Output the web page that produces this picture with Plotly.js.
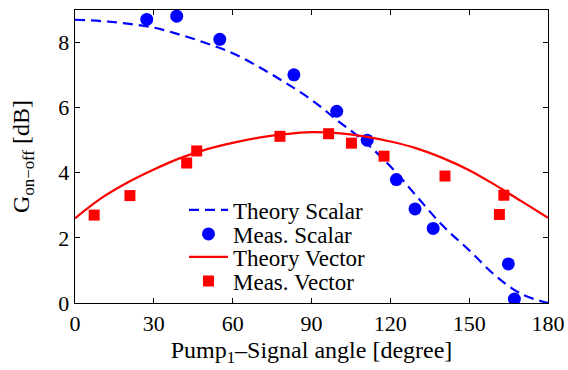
<!DOCTYPE html>
<html>
<head>
<meta charset="utf-8">
<script src="https://cdn.plot.ly/plotly-3.0.1.min.js"></script>
<style>html,body{margin:0;padding:0;background:#fff;}#chart{width:568px;height:370px;}</style>
</head>
<body>
<div id="chart"></div>
<script>
// Theory curves
const theoryAngle = [0, 10, 20, 30, 40, 50, 60, 70, 80, 90, 100, 110, 120, 130, 140, 150, 160, 170, 180];
const theoryScalar = [8.70, 8.66, 8.58, 8.46, 8.24, 7.98, 7.67, 7.25, 6.77, 6.24, 5.60, 4.97, 4.20, 3.28, 2.37, 1.62, 0.84, 0.27, 0.0];
const theoryVector = [2.60, 3.22, 3.70, 4.10, 4.45, 4.72, 4.92, 5.08, 5.19, 5.25, 5.22, 5.12, 4.96, 4.75, 4.45, 4.08, 3.62, 3.12, 2.62];

// Measured points
const measScalarAngle = [27.3, 38.7, 55.1, 83.3, 99.6, 111.2, 122.3, 129.4, 136.3, 164.9, 167.2];
const measScalarGain  = [8.71, 8.81, 8.10, 7.01, 5.89, 5.00, 3.79, 2.89, 2.29, 1.20, 0.12];
const measVectorAngle = [7.3, 20.9, 42.5, 46.3, 78.0, 96.5, 105.2, 117.6, 140.8, 161.5, 163.2];
const measVectorGain  = [2.70, 3.30, 4.30, 4.67, 5.12, 5.20, 4.91, 4.51, 3.90, 2.72, 3.31];

const xTicks = [0, 30, 60, 90, 120, 150, 180];
const yTicks = [0, 2, 4, 6, 8];
const seriesNames = ['Theory Scalar', 'Meas. Scalar', 'Theory Vector', 'Meas. Vector'];

const FONT = "'Liberation Serif', 'Times New Roman', Times, serif";

const traces = [
  {x: theoryAngle, y: theoryScalar, name: seriesNames[0], mode: 'lines', legend: 'legend',
   line: {color: '#0000ff', width: 2.2, dash: '10px,6px', shape: 'spline'}},
  {x: measScalarAngle, y: measScalarGain, name: seriesNames[1], mode: 'markers', legend: 'legend2',
   marker: {color: '#0000ff', size: 13, symbol: 'circle'}},
  {x: theoryAngle, y: theoryVector, name: seriesNames[2], mode: 'lines', legend: 'legend3',
   line: {color: '#ff0000', width: 2.2, shape: 'spline'}},
  {x: measVectorAngle, y: measVectorGain, name: seriesNames[3], mode: 'markers', legend: 'legend4',
   marker: {color: '#ff0000', size: 11, symbol: 'square'}}
];

function legendAt(yPaper) {
  return {x: 0.2304, y: yPaper, xanchor: 'left', yanchor: 'middle', itemwidth: 39,
          bgcolor: 'rgba(0,0,0,0)', borderwidth: 0,
          font: {family: FONT, size: 23, color: '#000'}};
}

const layout = {
  width: 568, height: 370,
  margin: {l: 75, r: 20, t: 10, b: 67},
  paper_bgcolor: '#ffffff', plot_bgcolor: '#ffffff',
  font: {family: FONT, size: 22, color: '#000'},
  showlegend: true,
  legend: legendAt(0.3174),
  legend2: legendAt(0.2355),
  legend3: legendAt(0.157),
  legend4: legendAt(0.0751),
  xaxis: {range: [0, 180], tickvals: xTicks, ticktext: xTicks.map(String),
          ticks: 'inside', ticklen: 5, tickwidth: 1, tickcolor: '#000',
          showline: true, linecolor: '#000', linewidth: 1.3, mirror: 'ticks',
          showgrid: false, zeroline: false,
          title: {text: 'Pump<sub>1</sub>–Signal angle [degree]', font: {family: FONT, size: 24}, standoff: 6}},
  yaxis: {range: [0, 9], tickvals: yTicks, ticktext: yTicks.map(String),
          ticks: 'inside', ticklen: 5, tickwidth: 1, tickcolor: '#000',
          showline: true, linecolor: '#000', linewidth: 1.3, mirror: 'ticks',
          showgrid: false, zeroline: false,
          title: {text: 'G<sub>on−off</sub> [dB]', font: {family: FONT, size: 24}, standoff: 22}}
};

Plotly.newPlot('chart', traces, layout, {displayModeBar: false, staticPlot: true});
</script>
</body>
</html>
